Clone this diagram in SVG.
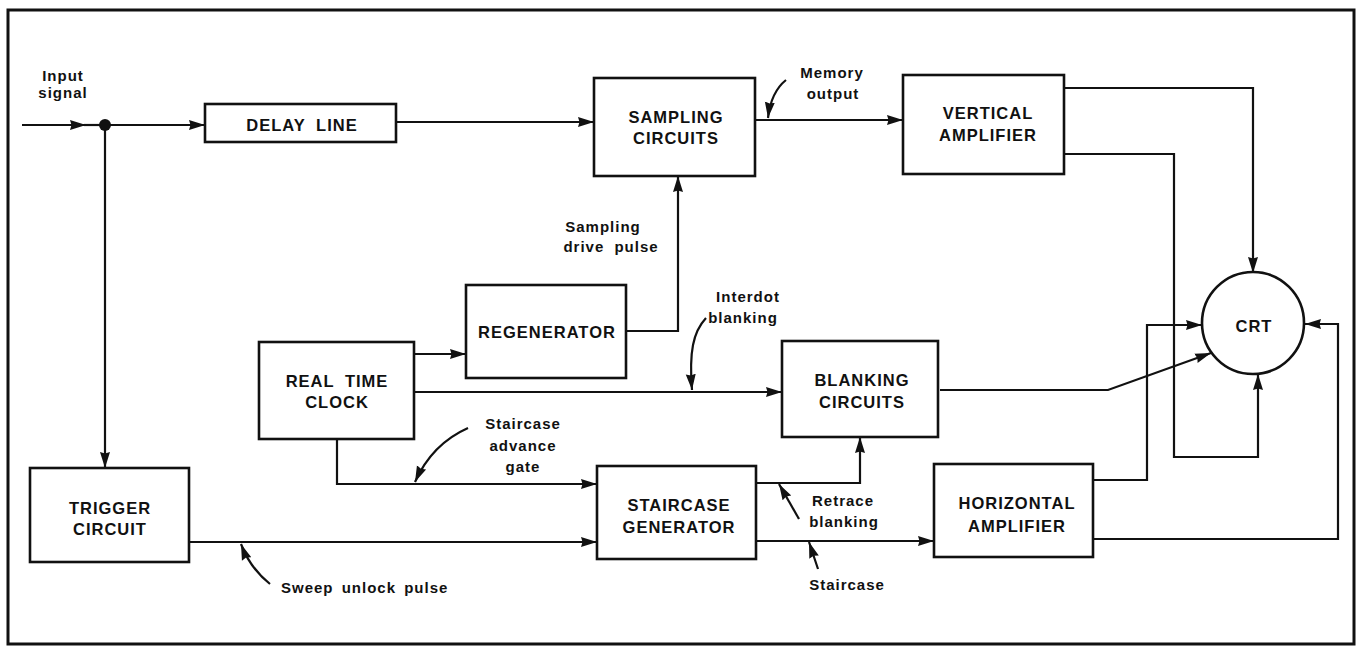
<svg xmlns="http://www.w3.org/2000/svg" width="1359" height="647" viewBox="0 0 1359 647">
<defs>
<marker id="ah" markerUnits="userSpaceOnUse" markerWidth="18" markerHeight="12" refX="16" refY="6" orient="auto">
<path d="M0,1 L16,6 L0,11 L1.5,6 z" fill="#111"/>
</marker>
<style>
.box{fill:#fff;stroke:#111;stroke-width:2.6}
.ln{fill:none;stroke:#111;stroke-width:2.2}
.ar{fill:none;stroke:#111;stroke-width:2.2;marker-end:url(#ah)}
.bt{font-family:"Liberation Sans",Arial,sans-serif;font-weight:bold;font-size:16.5px;letter-spacing:1px;text-anchor:middle;fill:#111}
.lt{font-family:"Liberation Sans",Arial,sans-serif;font-weight:bold;font-size:15px;letter-spacing:1px;text-anchor:middle;fill:#111}
.ws{word-spacing:5px}
</style>
</defs>
<rect x="0" y="0" width="1359" height="647" fill="#fff"/>
<rect x="8" y="10" width="1346" height="634" fill="none" stroke="#111" stroke-width="3"/>

<g id="connectors">
<path class="ar" d="M22,125 L86,125"/>
<path class="ln" d="M84,125 L105,125"/>
<path class="ar" d="M105,125 L205,125"/>
<path class="ar" d="M105,125 L105,468"/>
<path class="ar" d="M396,122 L594,122"/>
<path class="ar" d="M755,120 L903,120"/>
<path class="ar" d="M1064,88 L1253,88 L1253,273"/>
<path class="ar" d="M1064,154 L1174,154 L1174,457 L1258,457 L1258,374"/>
<path class="ar" d="M940,390 L1108,390 L1211,353"/>
<path class="ar" d="M1093,480 L1147,480 L1147,325 L1202,325"/>
<path class="ar" d="M1093,539 L1338,539 L1338,324 L1305,324"/>
<path class="ar" d="M626,331 L678,331 L678,176"/>
<path class="ar" d="M414,354 L466,354"/>
<path class="ar" d="M414,392 L782,392"/>
<path class="ar" d="M337,439 L337,484 L597,484"/>
<path class="ar" d="M189,542 L597,542"/>
<path class="ar" d="M756,483 L860,483 L860,437"/>
<path class="ar" d="M756,541 L934,541"/>
<path class="ar" d="M786,80 Q771,92 768,118"/>
<path class="ar" d="M706,318 C693,332 689,352 692,390"/>
<path class="ar" d="M468,428 Q432,444 415,482"/>
<path class="ar" d="M270,584 Q250,568 241,544"/>
<path class="ar" d="M799,519 L779,484"/>
<path class="ar" d="M818,569 L809,542"/>
</g>
<circle cx="105" cy="125" r="6" fill="#111"/>

<g id="input-label">
<text class="lt" x="63" y="81">Input</text>
<text class="lt" x="63" y="98">signal</text>
</g>
<g id="delay-line">
<rect class="box" x="205" y="104" width="191" height="38"/>
<text class="bt ws" x="302" y="131">DELAY LINE</text>
</g>
<g id="sampling-circuits">
<rect class="box" x="594" y="78" width="161" height="98"/>
<text class="bt" x="676" y="123">SAMPLING</text>
<text class="bt" x="676" y="144">CIRCUITS</text>
</g>
<g id="vertical-amplifier">
<rect class="box" x="903" y="75" width="161" height="99"/>
<text class="bt" x="988" y="119">VERTICAL</text>
<text class="bt" x="988" y="141">AMPLIFIER</text>
</g>
<g id="crt">
<circle cx="1253" cy="323" r="51" fill="#fff" stroke="#111" stroke-width="2.6"/>
<text class="bt" x="1254" y="332">CRT</text>
</g>
<g id="regenerator">
<rect class="box" x="466" y="285" width="160" height="93"/>
<text class="bt" x="547" y="338">REGENERATOR</text>
</g>
<g id="real-time-clock">
<rect class="box" x="259" y="342" width="155" height="97"/>
<text class="bt ws" x="337" y="387">REAL TIME</text>
<text class="bt" x="337" y="408">CLOCK</text>
</g>
<g id="blanking-circuits">
<rect class="box" x="782" y="341" width="156" height="96"/>
<text class="bt" x="862" y="386">BLANKING</text>
<text class="bt" x="862" y="408">CIRCUITS</text>
</g>
<g id="trigger-circuit">
<rect class="box" x="30" y="468" width="159" height="94"/>
<text class="bt" x="110" y="514">TRIGGER</text>
<text class="bt" x="110" y="535">CIRCUIT</text>
</g>
<g id="staircase-generator">
<rect class="box" x="597" y="466" width="159" height="93"/>
<text class="bt" x="679" y="511">STAIRCASE</text>
<text class="bt" x="679" y="533">GENERATOR</text>
</g>
<g id="horizontal-amplifier">
<rect class="box" x="934" y="464" width="159" height="93"/>
<text class="bt" x="1017" y="509">HORIZONTAL</text>
<text class="bt" x="1017" y="532">AMPLIFIER</text>
</g>

<g id="labels">
<text class="lt" x="832" y="78">Memory</text>
<text class="lt" x="833" y="99">output</text>
<text class="lt" x="603" y="232">Sampling</text>
<text class="lt ws" x="611" y="252">drive pulse</text>
<text class="lt" x="748" y="302">Interdot</text>
<text class="lt" x="743" y="323">blanking</text>
<text class="lt" x="523" y="429">Staircase</text>
<text class="lt" x="523" y="451">advance</text>
<text class="lt" x="523" y="472">gate</text>
<text class="lt" x="843" y="506">Retrace</text>
<text class="lt" x="844" y="527">blanking</text>
<text class="lt" x="847" y="590">Staircase</text>
<text class="lt" x="281" y="593" style="text-anchor:start;word-spacing:3px">Sweep unlock pulse</text>
</g>
</svg>
